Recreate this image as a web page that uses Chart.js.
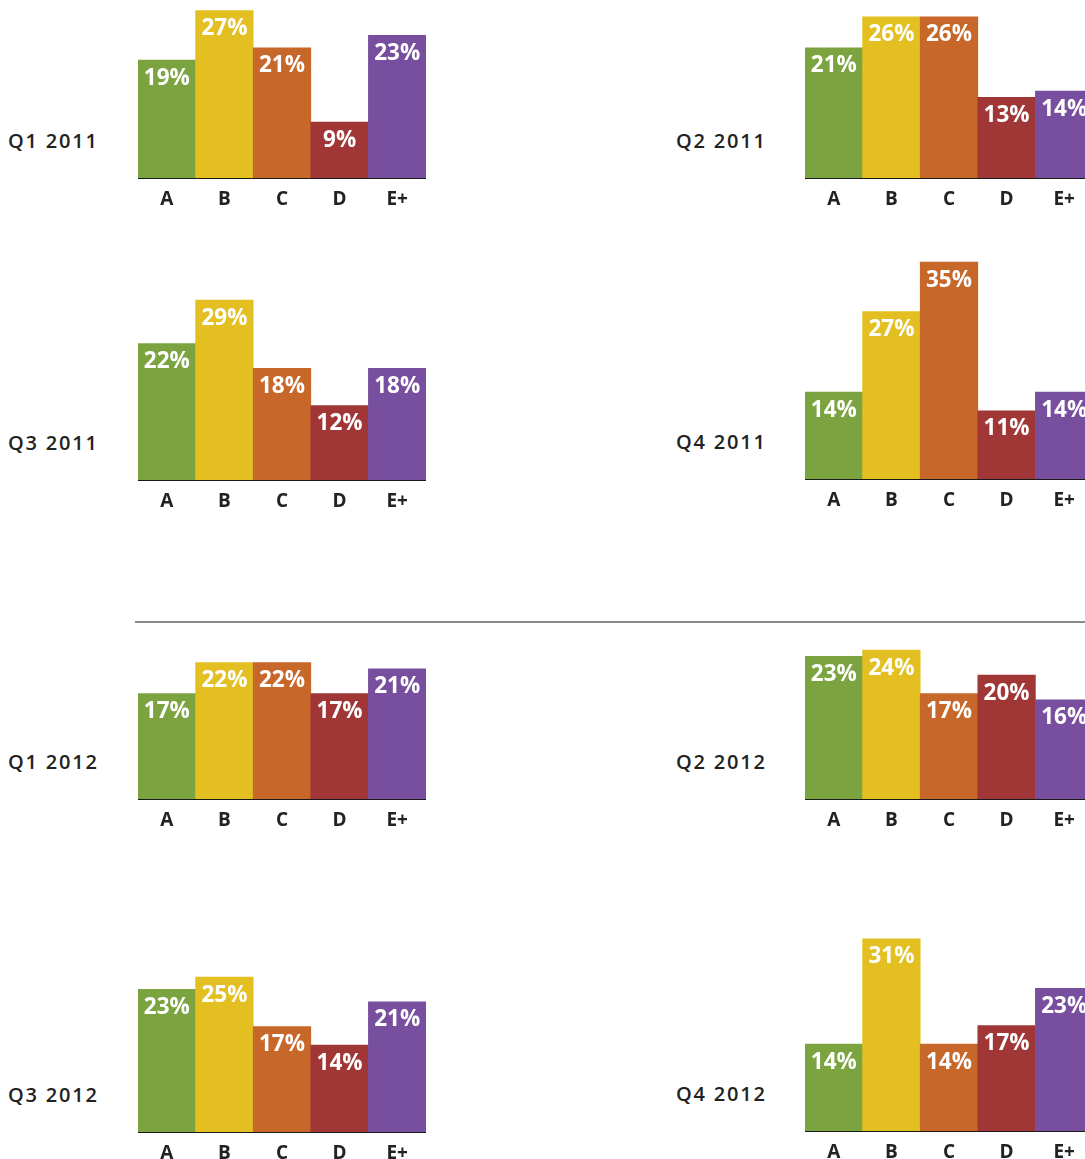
<!DOCTYPE html>
<html>
<head>
<meta charset="utf-8">
<script src="https://cdn.jsdelivr.net/npm/chart.js@4/dist/chart.umd.min.js"></script>
<style>
  html, body { margin: 0; padding: 0; background: #fff; }
  body { width: 1085px; height: 1159px; position: relative; overflow: hidden; }
  .panel { position: absolute; width: 288px; height: 288px; }
  .panel canvas { display: block; }
  .qlabel {
    position: absolute; height: 24px; line-height: 24px; white-space: nowrap;
    font-family: "Open Sans", "DejaVu Sans", sans-serif; font-weight: 600;
    font-size: 20px; letter-spacing: 1.8px; color: #222;
  }
  .rule { position: absolute; left: 135px; top: 621px; width: 950px; height: 2px; background: #8a8a8a; }
</style>
</head>
<body>
<div class="rule"></div>
<script>
// Grade categories and the colour of each bar
const categories = ["A", "B", "C", "D", "E+"];
const barColors = ["#7BA440", "#E3BF22", "#C7672A", "#A03636", "#784F9E"];

// Quarter names
const quarters = ["Q1 2011", "Q2 2011", "Q3 2011", "Q4 2011", "Q1 2012", "Q2 2012", "Q3 2012", "Q4 2012"];

// Share of each grade per quarter (%)
const q1_2011 = [19, 27, 21, 9, 23];
const q2_2011 = [21, 26, 26, 13, 14];
const q3_2011 = [22, 29, 18, 12, 18];
const q4_2011 = [14, 27, 35, 11, 14];
const q1_2012 = [17, 22, 22, 17, 21];
const q2_2012 = [23, 24, 17, 20, 16];
const q3_2012 = [23, 25, 17, 14, 21];
const q4_2012 = [14, 31, 14, 17, 23];

const quarterValues = [q1_2011, q2_2011, q3_2011, q4_2011, q1_2012, q2_2012, q3_2012, q4_2012];

// Panel placement: left edge of the bar area and the baseline of each panel
const panelLeft = [138, 805, 138, 805, 138, 805, 138, 805];
const labelLeft = [8, 676, 8, 676, 8, 676, 8, 676];
const panelBase = [178, 178, 480, 479, 799, 799, 1132, 1131];

const PLOT_H = 248;   // height of the plotting area in px
const AXIS_H = 40;    // room for the category labels
const Y_MAX = 40;     // percent at the top of the plotting area

// Writes the value inside the top of each bar
const valueLabels = {
  id: "valueLabels",
  afterDatasetsDraw(chart) {
    const ctx = chart.ctx;
    const meta = chart.getDatasetMeta(0);
    const data = chart.data.datasets[0].data;
    ctx.save();
    ctx.fillStyle = "#ffffff";
    ctx.font = "700 22.5px 'Open Sans', 'DejaVu Sans', sans-serif";
    ctx.textAlign = "center";
    ctx.textBaseline = "alphabetic";
    meta.data.forEach((bar, i) => {
      ctx.fillText(data[i] + "%", bar.x, bar.y + 24.5);
    });
    ctx.restore();
  }
};

quarters.forEach((name, idx) => {
  const base = panelBase[idx];

  const label = document.createElement("div");
  label.className = "qlabel";
  label.textContent = name;
  label.style.left = labelLeft[idx] + "px";
  label.style.top = (base - 37 - 12) + "px";
  document.body.appendChild(label);

  const wrap = document.createElement("div");
  wrap.className = "panel";
  wrap.style.left = panelLeft[idx] + "px";
  wrap.style.top = (base - PLOT_H) + "px";
  const canvas = document.createElement("canvas");
  canvas.width = 288;
  canvas.height = PLOT_H + AXIS_H;
  wrap.appendChild(canvas);
  document.body.appendChild(wrap);

  new Chart(canvas, {
    type: "bar",
    data: {
      labels: categories,
      datasets: [{
        data: quarterValues[idx],
        backgroundColor: barColors,
        borderWidth: 0,
        categoryPercentage: 1.0,
        barPercentage: 1.0
      }]
    },
    options: {
      responsive: false,
      maintainAspectRatio: false,
      animation: false,
      devicePixelRatio: 1,
      layout: { padding: 0 },
      plugins: { legend: { display: false }, tooltip: { enabled: false }, title: { display: false } },
      scales: {
        x: {
          grid: { display: false, drawTicks: false, tickLength: 0 },
          border: { display: true, color: "#1a1a1a", width: 2 },
          ticks: {
            color: "#222",
            padding: 10,
            font: { family: "'Open Sans', 'DejaVu Sans', sans-serif", size: 19, weight: "700" }
          },
          afterFit(axis) { axis.height = AXIS_H; }
        },
        y: {
          display: false,
          min: 0,
          max: Y_MAX
        }
      }
    },
    plugins: [valueLabels]
  });
});
</script>
</body>
</html>
